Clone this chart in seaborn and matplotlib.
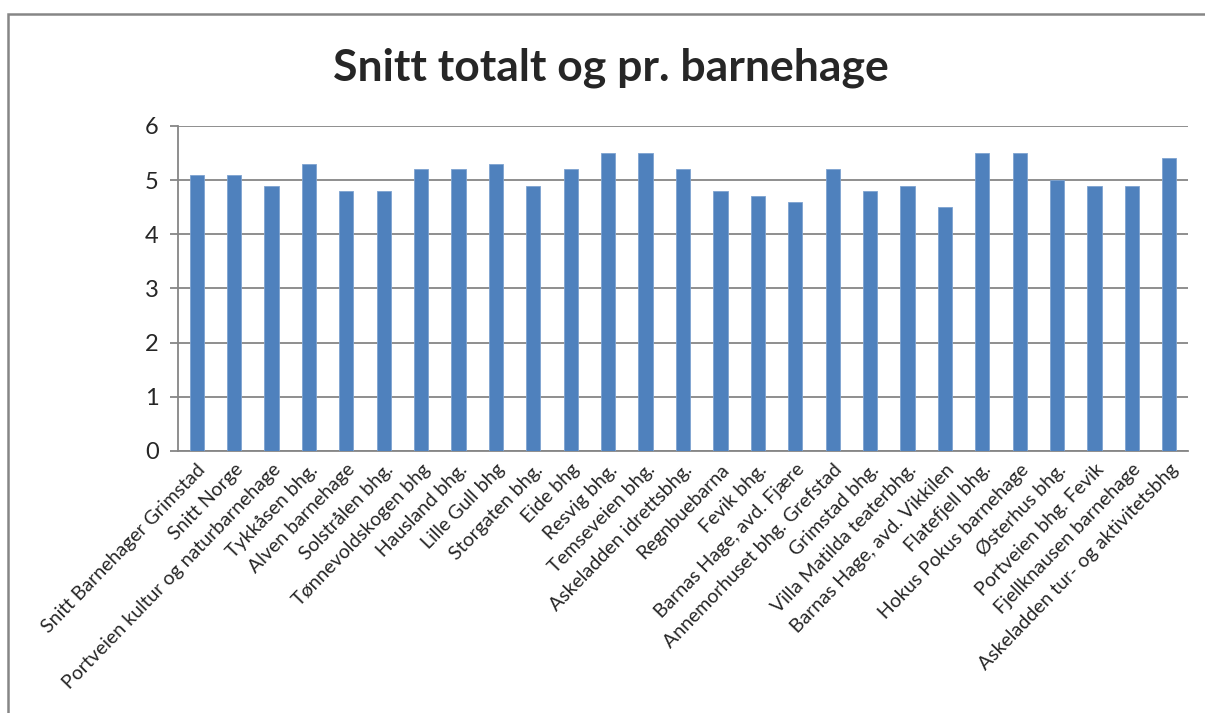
import matplotlib
matplotlib.use("Agg")
import matplotlib.pyplot as plt
import matplotlib.patches as mpatches
import seaborn as sns
import pandas as pd

# Barnehager og snitt
barnehager = [
    "Snitt Barnehager Grimstad", "Snitt Norge", "Portveien kultur og naturbarnehage",
    "Tykkåsen bhg.", "Alven barnehage", "Solstrålen bhg.", "Tønnevoldskogen bhg",
    "Hausland bhg.", "Lille Gull bhg", "Storgaten bhg.", "Eide bhg", "Resvig bhg.",
    "Temseveien bhg.", "Askeladden idrettsbhg.", "Regnbuebarna", "Fevik bhg.",
    "Barnas Hage, avd. Fjære", "Annemorhuset bhg. Grefstad", "Grimstad bhg.",
    "Villa Matilda teaterbhg.", "Barnas Hage, avd. Vikkilen", "Flatefjell bhg.",
    "Hokus Pokus barnehage", "Østerhus bhg.", "Portveien bhg. Fevik",
    "Fjellknausen barnehage", "Askeladden tur- og aktivitetsbhg",
]
snitt = [5.1, 5.1, 4.9, 5.3, 4.8, 4.8, 5.2, 5.2, 5.3, 4.9, 5.2, 5.5, 5.5, 5.2,
         4.8, 4.7, 4.6, 5.2, 4.8, 4.9, 4.5, 5.5, 5.5, 5.0, 4.9, 4.9, 5.4]
y_ticks = [0, 1, 2, 3, 4, 5, 6]

df = pd.DataFrame({"barnehage": barnehager, "snitt": snitt})

sns.set_style("white")
plt.rcParams["font.family"] = ["Lato", "DejaVu Sans"]

fig = plt.figure(figsize=(12.05, 7.13), dpi=100)
ax = fig.add_axes([0.1477, 0.3675, 0.8382, 0.4558])

grid_col = "#868686"
sns.barplot(data=df, x="barnehage", y="snitt", color="#4F81BD", width=0.38,
            saturation=1, edgecolor="#7EA3D0", linewidth=0.6, ax=ax, zorder=3)

ax.set_ylim(0, 6)
ax.set_xlim(-0.5, len(barnehager) - 0.5)
ax.set_yticks(y_ticks)
ax.set_yticklabels([str(v) for v in y_ticks], fontsize=17)
ax.yaxis.grid(True, color=grid_col, linewidth=1.3, zorder=0)
ax.set_axisbelow(True)

# tick marks between categories on x
ax.set_xticks(range(len(barnehager)))
ax.set_xticklabels(barnehager, rotation=46, ha="right", rotation_mode="anchor",
                   fontsize=14)
ax.set_xticks([i - 0.5 for i in range(len(barnehager) + 1)], minor=True)
ax.tick_params(axis="x", which="major", length=0, pad=7)
ax.tick_params(axis="x", which="minor", length=5, width=1.3, color=grid_col, direction="out")
ax.tick_params(axis="y", length=6, width=1.3, color=grid_col, direction="out", left=True, pad=8)

for side in ["top", "right"]:
    ax.spines[side].set_visible(False)
for side in ["left", "bottom"]:
    ax.spines[side].set_color(grid_col)
    ax.spines[side].set_linewidth(1.3)

ax.set_xlabel("")
ax.set_ylabel("")

fig.text(0.507, 0.905, "Snitt totalt og pr. barnehage", ha="center", va="center",
         fontsize=32, fontweight="bold")

# ramme rundt diagrammet
fig.patches.append(mpatches.Rectangle((8 / 1205, -0.1), 1.2, 1 - 14 / 713 + 0.1,
                                      transform=fig.transFigure, fill=False,
                                      edgecolor=grid_col, linewidth=1.8))

fig.savefig("out.png", dpi=100)
